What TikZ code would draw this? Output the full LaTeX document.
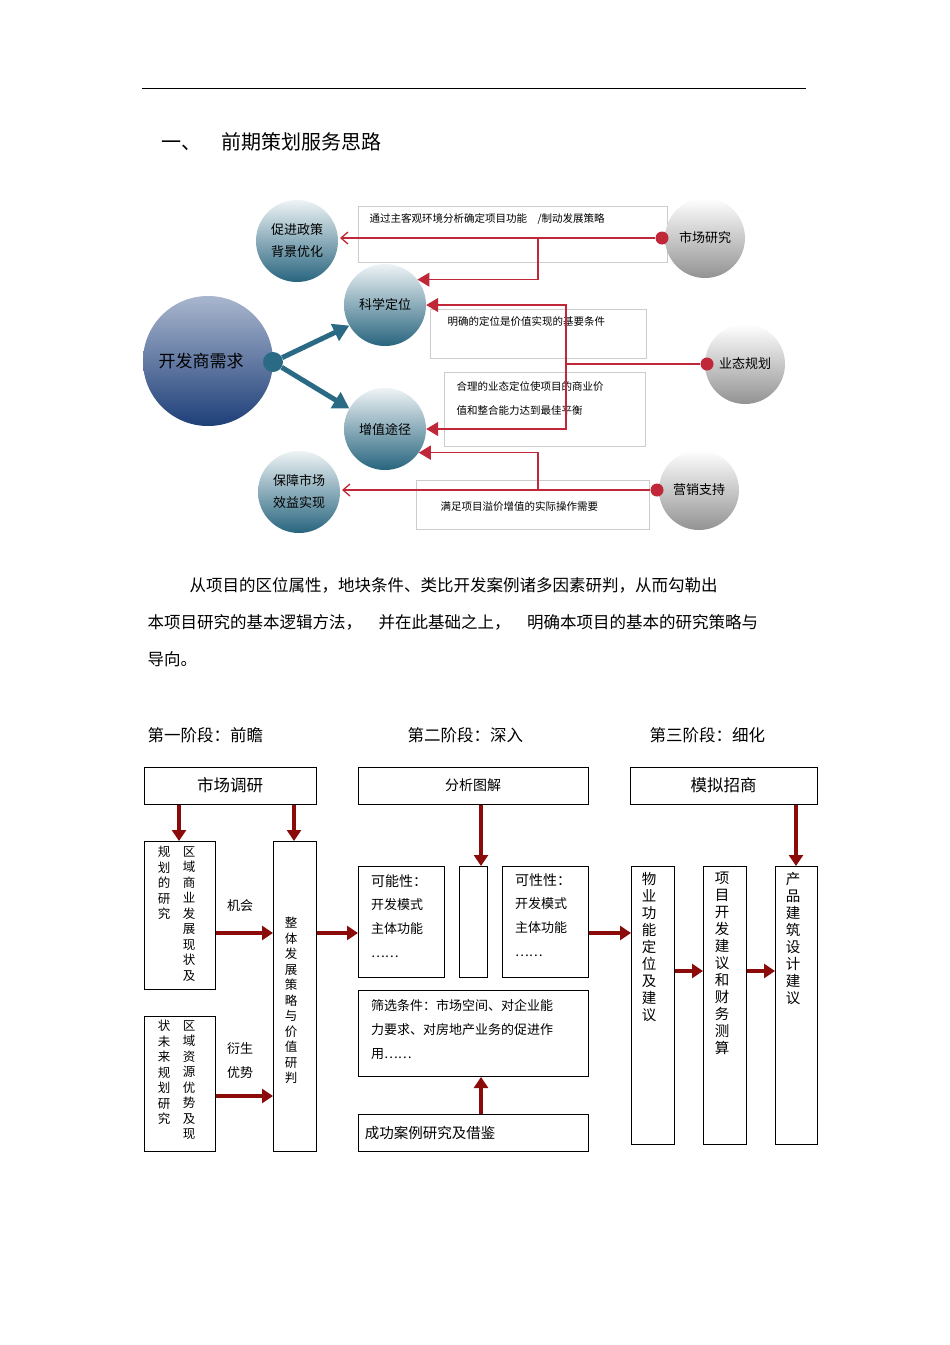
\documentclass[tikz,border=0pt]{standalone}
\usepackage{fontspec}
\setmainfont{Liberation Serif}
\newfontfamily\cjk{Noto Sans CJK SC}
\usetikzlibrary{arrows.meta}
\definecolor{dred}{HTML}{8B0A0A}
\definecolor{lred}{HTML}{C0283A}
\definecolor{teal}{HTML}{2A6A85}
\definecolor{bigtop}{HTML}{A9B6CE}
\definecolor{bigbot}{HTML}{1E3F78}
\begin{document}
\begin{tikzpicture}[x=1pt,y=-1pt,
  every node/.style={font=\cjk},
  tb/.style={circle,minimum size=82pt,inner sep=0pt,top color=white!92!teal,bottom color=teal!95!black,font=\cjk\fontsize{13}{22}\selectfont,align=center},
  gb/.style={circle,minimum size=80pt,inner sep=0pt,top color=white,bottom color=gray!85,font=\cjk\fontsize{13}{16}\selectfont},
  tbox/.style={draw=gray!40,line width=0.5pt,anchor=north west,inner sep=0pt},
  ttext/.style={anchor=west,font=\cjk\fontsize{10.5}{13}\selectfont},
  rl/.style={lred,line width=1.3pt},
  rtri/.style={rl,-{Triangle[length=12pt,width=14pt]}},
  ropen/.style={rl,-{Straight Barb[length=7pt,width=12pt]}},
  rdot/.style={circle,fill=lred,minimum size=13pt,inner sep=0pt},
  bx/.style={draw,line width=1pt,anchor=north west,inner sep=0pt},
  darr/.style={dred,line width=4.5pt,-{Triangle[length=11pt,width=14pt]}},
  lab/.style={font=\cjk\fontsize{13}{24}\selectfont,anchor=north west,align=left,inner sep=0pt},
  vt/.style={font=\cjk\fontsize{12.5}{15.5}\selectfont,anchor=north,align=center,inner sep=0pt},
]
\useasboundingbox (0,0) rectangle (950,1345);
\draw[line width=0.6pt] (142,88) -- (806,88);
\node[anchor=west,font=\cjk\fontsize{20}{24}\selectfont] (h1) at (158,142) {一、\quad 前期策划服务思路};

% boxes of top diagram
\node[tbox,minimum width=309pt,minimum height=56pt] (b1) at (358,206) {};
\node[ttext] (t1) at (366,219) {通过主客观环境分析确定项目功能\quad /制动发展策略};
\node[tbox,minimum width=216pt,minimum height=49pt] (b2) at (430,309) {};
\node[ttext] (t2) at (444,322) {明确的定位是价值实现的基要条件};
\node[tbox,minimum width=201pt,minimum height=74pt] (b3) at (444,372) {};
\node[ttext,align=left,anchor=north west,font=\cjk\fontsize{10.5}{24.5}\selectfont] (t3) at (453,378) {合理的业态定位使项目的商业价\\值和整合能力达到最佳平衡};
\node[tbox,minimum width=233pt,minimum height=49pt] (b4) at (416,480) {};
\node[ttext] (t4) at (437,507) {满足项目溢价增值的实际操作需要};

% circles
\node[circle,minimum size=130pt,inner sep=0pt,top color=bigtop,bottom color=bigbot,font=\cjk\fontsize{17}{20}\selectfont] (big) at (208,361) {\hspace*{-14pt}开发商需求};
\node[circle,fill=teal,minimum size=20pt,inner sep=0pt] (hub) at (273,362) {};
\node[tb] (kx) at (385,305) {科学定位};
\node[tb] (zz) at (385,429) {增值途径};
\node[tb] (cj) at (297,241) {促进政策\\背景优化};
\node[tb] (bz) at (299,492) {保障市场\\效益实现};
\node[gb] (sc) at (705,238) {市场研究};
\node[gb] (yt) at (745,364) {业态规划};
\node[gb] (yx) at (699,490) {营销支持};

\draw[teal,line width=5pt,-{Triangle[length=16pt,width=18pt]}] (hub) -- (kx.210);
\draw[teal,line width=5pt,-{Triangle[length=16pt,width=18pt]}] (hub) -- (zz.150);

% red connectors
\node[rdot] (d1) at (662,238) {};
\node[rdot] (d2) at (707,364) {};
\node[rdot] (d3) at (657,490) {};
\coordinate (j1) at (538,238);
\coordinate (j2) at (566,364);
\coordinate (j3) at (538,490);
\coordinate (e1) at (340,238);
\coordinate (e3) at (342,490);
\draw[ropen] (d1) -- (e1);
\draw[rtri] (j1) |- (kx.38);
\draw[rl] (d2) -- (j2);
\draw[rtri] (j2) |- (kx.east);
\draw[rtri] (j2) |- (zz.east);
\draw[ropen] (d3) -- (e3);
\draw[rtri] (j3) |- (zz.-35);

% paragraph
\node[anchor=west,font=\cjk\fontsize{16.5}{20}\selectfont] (p1) at (186,585) {从项目的区位属性，地块条件、类比开发案例诸多因素研判，从而勾勒出};
\node[anchor=west,font=\cjk\fontsize{16.5}{20}\selectfont] (p2) at (144,622) {本项目研究的基本逻辑方法，\quad 并在此基础之上，\quad 明确本项目的基本的研究策略与};
\node[anchor=west,font=\cjk\fontsize{16.5}{20}\selectfont] (p3) at (144,659) {导向。};

\node[anchor=west,font=\cjk\fontsize{16.5}{20}\selectfont] (s1) at (144,735) {第一阶段：前瞻};
\node[anchor=west,font=\cjk\fontsize{16.5}{20}\selectfont] (s2) at (404,735) {第二阶段：深入};
\node[anchor=west,font=\cjk\fontsize{16.5}{20}\selectfont] (s3) at (646,735) {第三阶段：细化};

% bottom boxes
\node[bx,minimum width=172pt,minimum height=37pt,font=\cjk\fontsize{16.5}{20}\selectfont,anchor=center] (m1) at (230,785.5) {市场调研};
\node[bx,minimum width=230pt,minimum height=37pt,font=\cjk\fontsize{14}{20}\selectfont,anchor=center] (m2) at (473,785.5) {分析图解};
\node[bx,minimum width=187pt,minimum height=37pt,font=\cjk\fontsize{16.5}{20}\selectfont,anchor=center] (m3) at (723.5,785.5) {模拟招商};

\node[bx,minimum width=71pt,minimum height=148pt] (g1) at (144,841) {};
\node[vt] (g1a) at (164,846) {规\\划\\的\\研\\究};
\node[vt] (g1b) at (189,846) {区\\域\\商\\业\\发\\展\\现\\状\\及};
\node[bx,minimum width=71pt,minimum height=135pt] (g2) at (144,1016) {};
\node[vt] (g2a) at (164,1020) {状\\未\\来\\规\\划\\研\\究};
\node[vt] (g2b) at (189,1020) {区\\域\\资\\源\\优\\势\\及\\现};
\node[bx,minimum width=43pt,minimum height=310pt] (zt) at (273,841) {};
\node[vt] (zta) at (291,917) {整\\体\\发\\展\\策\\略\\与\\价\\值\\研\\判};
\node[lab] (jh) at (227,899) {机会};
\node[lab] (ys) at (227,1042) {衍生\\优势};

\node[bx,minimum width=86pt,minimum height=111pt] (kn) at (358,866) {};
\node[lab] (kna) at (371,874) {\fontsize{14}{24}\selectfont 可能性：\\[-1pt] 开发模式\\主体功能\\……};
\node[bx,minimum width=28pt,minimum height=111pt] (nr) at (459,866) {};
\node[bx,minimum width=86pt,minimum height=111pt] (kx2) at (502,866) {};
\node[lab] (kxa) at (515,874) {\fontsize{14}{24}\selectfont 可性性：\\[-1pt] 开发模式\\主体功能\\……};
\node[bx,minimum width=230pt,minimum height=86pt] (sx) at (358,990) {};
\node[lab] (sxa) at (371,999) {筛选条件：市场空间、对企业能\\力要求、对房地产业务的促进作\\用……};
\node[bx,minimum width=230pt,minimum height=37pt,font=\cjk\fontsize{14.5}{20}\selectfont,anchor=center] (cg) at (473,1132.5) {\hspace*{-86pt}成功案例研究及借鉴};

\node[bx,minimum width=43pt,minimum height=278pt] (w1) at (631,866) {};
\node[vt,font=\cjk\fontsize{14.5}{17}\selectfont] (w1a) at (649,872) {物\\业\\功\\能\\定\\位\\及\\建\\议};
\node[bx,minimum width=43pt,minimum height=278pt] (w2) at (703,866) {};
\node[vt,font=\cjk\fontsize{14.5}{17}\selectfont] (w2a) at (722,872) {项\\目\\开\\发\\建\\议\\和\\财\\务\\测\\算};
\node[bx,minimum width=42pt,minimum height=278pt] (w3) at (775,866) {};
\node[vt,font=\cjk\fontsize{14.5}{17}\selectfont] (w3a) at (793,872) {产\\品\\建\\筑\\设\\计\\建\\议};

% arrows
\draw[darr] (m1.south -| 179,0) -- (g1.north -| 179,0);
\draw[darr] (m1.south -| 294,0) -- (zt.north -| 294,0);
\draw[darr] (g1.east |- 0,933) -- (zt.west |- 0,933);
\draw[darr] (g2.east |- 0,1096) -- (zt.west |- 0,1096);
\draw[darr] (zt.east |- 0,933) -- (kn.west |- 0,933);
\draw[darr] (m2.south -| 481,0) -- (nr.north -| 481,0);
\draw[darr] (cg.north -| 481,0) -- (sx.south -| 481,0);
\draw[darr] (kx2.east |- 0,933) -- (w1.west |- 0,933);
\draw[darr] (w1.east |- 0,971) -- (w2.west |- 0,971);
\draw[darr] (w2.east |- 0,971) -- (w3.west |- 0,971);
\draw[darr] (m3.south -| 796,0) -- (w3.north -| 796,0);
\end{tikzpicture}
\end{document}
